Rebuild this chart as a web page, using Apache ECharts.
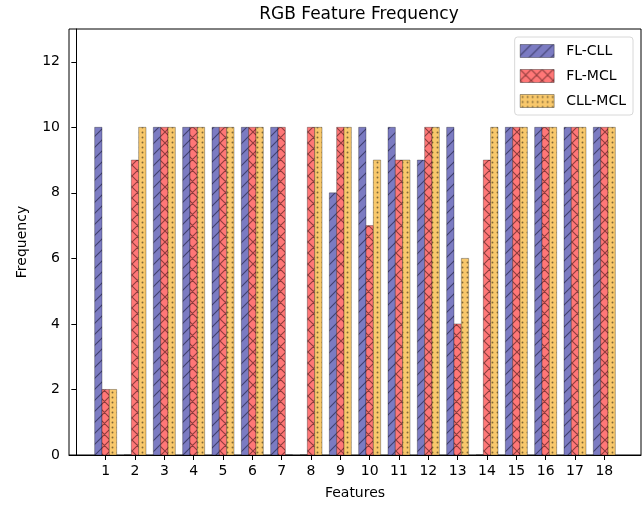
<!DOCTYPE html>
<html>
<head>
<meta charset="utf-8">
<script src="https://cdn.jsdelivr.net/npm/echarts@6/dist/echarts.min.js"></script>
<style>html,body{margin:0;padding:0;background:#fff}#c{width:644px;height:508px}</style>
</head>
<body>
<div id="c"></div>
<script>
var features = [1,2,3,4,5,6,7,8,9,10,11,12,13,14,15,16,17,18];
var flCll  = [10,0,10,10,10,10,10,0,8,10,10,9,10,0,10,10,10,10];
var flMcl  = [2,9,10,10,10,10,10,10,10,7,9,10,4,9,10,10,10,10];
var cllMcl = [2,10,10,10,10,10,0,10,10,9,9,10,6,10,10,10,10,10];
var seriesNames = ['FL-CLL','FL-MCL','CLL-MCL'];
var yTicks = [0,2,4,6,8,10,12];

function makePattern(kind) {
  var c = document.createElement('canvas');
  var ctx = c.getContext('2d');
  var P;
  if (kind === 'slash') {
    P = 11; c.width = P; c.height = P;
    ctx.fillStyle = '#7b7bc2'; ctx.fillRect(0,0,P,P);
    ctx.strokeStyle = '#404070'; ctx.lineWidth = 1.1;
    ctx.beginPath();
    ctx.moveTo(-1,P+1); ctx.lineTo(P+1,-1);
    ctx.moveTo(-P-1,P+1); ctx.lineTo(1,-1);
    ctx.moveTo(P-1,P+1); ctx.lineTo(2*P+1,-1);
    ctx.stroke();
  } else if (kind === 'cross') {
    P = 11; c.width = P; c.height = P;
    ctx.fillStyle = '#ff7777'; ctx.fillRect(0,0,P,P);
    ctx.strokeStyle = '#8e3c3c'; ctx.lineWidth = 1.1;
    ctx.beginPath();
    ctx.moveTo(-1,P+1); ctx.lineTo(P+1,-1);
    ctx.moveTo(-P-1,P+1); ctx.lineTo(1,-1);
    ctx.moveTo(P-1,P+1); ctx.lineTo(2*P+1,-1);
    ctx.moveTo(-1,-1); ctx.lineTo(P+1,P+1);
    ctx.moveTo(-P-1,-1); ctx.lineTo(1,P+1);
    ctx.moveTo(P-1,-1); ctx.lineTo(2*P+1,P+1);
    ctx.stroke();
  } else {
    P = 5; c.width = P; c.height = P;
    ctx.fillStyle = '#f8c86c'; ctx.fillRect(0,0,P,P);
    ctx.fillStyle = '#806838';
    ctx.beginPath(); ctx.arc(2.5,2.5,0.95,0,Math.PI*2); ctx.fill();
  }
  return {image: c, repeat: 'repeat'};
}
var patterns = [makePattern('slash'), makePattern('cross'), makePattern('dots')];
var allData = [flCll, flMcl, cllMcl];
var W = 0.25;

var series = allData.map(function (vals, si) {
  var off = (si - 1) * W;
  return {
    name: seriesNames[si],
    type: 'custom',
    itemStyle: {color: patterns[si], borderColor: 'rgba(0,0,0,0.3)', borderWidth: 1},
    data: features.map(function (f, i) { return [f, vals[i]]; }),
    encode: {x: 0, y: 1},
    renderItem: function (params, api) {
      var x = api.value(0) + off;
      var v = api.value(1);
      var p0 = api.coord([x - W/2, v]);
      var p1 = api.coord([x + W/2, 0]);
      return {
        type: 'rect',
        shape: {x: p0[0], y: p0[1], width: p1[0]-p0[0], height: p1[1]-p0[1]},
        style: {fill: patterns[si], stroke: 'rgba(0,0,0,0.3)', lineWidth: 1}
      };
    }
  };
});

var chart = echarts.init(document.getElementById('c'), null, {renderer: 'canvas'});
var font = 'DejaVu Sans';
chart.setOption({
  animation: false,
  backgroundColor: '#fff',
  title: {text: 'RGB Feature Frequency', left: 354, textAlign: 'center', top: 1,
    textStyle: {fontFamily: font, fontSize: 17, fontWeight: 'normal', color: '#000'}},
  grid: {left: 69, right: 3, top: 29, bottom: 53, show: true, borderColor: '#000', borderWidth: 1},
  legend: {
    orient: 'vertical', right: 11, top: 37, itemWidth: 34, itemHeight: 13, itemGap: 11,
    padding: [7, 7, 7, 5], borderColor: '#d8d8d8', borderWidth: 1, borderRadius: 3,
    textStyle: {fontFamily: font, fontSize: 14, color: '#000', padding: [0, 0, 0, 7]},
    data: seriesNames.map(function (n, i) {
      return {name: n, icon: 'rect', itemStyle: {color: patterns[i], borderColor: 'rgba(0,0,0,0.35)', borderWidth: 1}};
    })
  },
  xAxis: {
    type: 'value', min: -0.25, max: 19.25,
    name: 'Features', nameLocation: 'middle', nameGap: 31,
    nameTextStyle: {fontFamily: font, fontSize: 14, color: '#000'},
    splitLine: {show: false},
    axisLine: {show: true, onZero: false, lineStyle: {color: '#000'}},
    axisTick: {show: true, length: 5, customValues: features, lineStyle: {color: '#000'}},
    axisLabel: {customValues: features, margin: 9, fontFamily: font, fontSize: 14, color: '#000'}
  },
  yAxis: {
    type: 'value', min: 0, max: 13,
    name: 'Frequency', nameLocation: 'middle', nameGap: 40,
    nameTextStyle: {fontFamily: font, fontSize: 14, color: '#000'},
    splitLine: {show: false},
    axisLine: {show: true, lineStyle: {color: '#000'}},
    axisTick: {show: true, length: 5, customValues: yTicks, lineStyle: {color: '#000'}},
    axisLabel: {customValues: yTicks, margin: 9, fontFamily: font, fontSize: 14, color: '#000'}
  },
  series: series
});
</script>
</body>
</html>
